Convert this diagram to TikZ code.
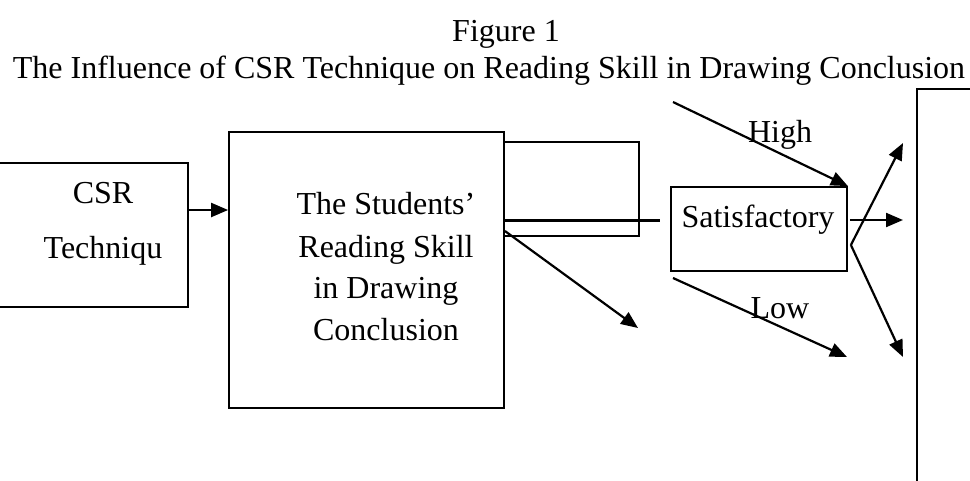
\documentclass[tikz,border=0pt]{standalone}
\usepackage{fontspec}
\setmainfont{Liberation Serif}
\usetikzlibrary{arrows.meta}
\begin{document}
\begin{tikzpicture}[x=1pt,y=-1pt,
  box/.style={draw,line width=1.8pt,inner sep=0pt,rectangle},
  txt/.style={anchor=base,inner sep=0pt,font=\fontsize{32}{40}\selectfont},
  arr/.style={line width=2.2pt,-{Triangle[length=17pt,width=14pt]}},
  plain/.style={line width=2pt}]
\useasboundingbox (0,0) rectangle (970,480);
\clip (0,0) rectangle (970,480);
% title
\node[txt] (fig) at (506,41) {Figure 1};
\node[txt] (title) at (489,78) {The Influence of CSR Technique on Reading Skill in Drawing Conclusion};
% boxes
\node[box,minimum width=198pt,minimum height=144pt] (csr) at (89,235) {};
\node[box,minimum width=135pt,minimum height=94pt] (back) at (571.5,189) {};
\node[box,minimum width=275pt,minimum height=276pt] (big) at (366.5,270) {};
\node[box,minimum width=176pt,minimum height=84pt] (sat) at (759,229) {};
\node[box,minimum width=66pt,minimum height=422pt] (right) at (950,300) {};
% texts
\node[txt] (csr1) at (103,203) {CSR};
\node[txt] (csr2) at (103,258) {Techniqu};
\node[txt] (b1) at (386,214) {The Students’};
\node[txt] (b2) at (386,257) {Reading Skill};
\node[txt] (b3) at (386,298) {in Drawing};
\node[txt] (b4) at (386,340) {Conclusion};
\node[txt] (sattxt) at (758,227) {Satisfactory};
\node[txt] (high) at (780,142) {High};
\node[txt] (low) at (780,318) {Low};
% free ends
\coordinate (lineend) at (660,220);
\coordinate (midend) at (638,328);
\coordinate (highstart) at (673,102);
\coordinate (lowstart) at (673,278);
\coordinate (lowend) at (847,357);
\coordinate (outmid) at (903,220);
\coordinate (outtop) at (903,143);
\coordinate (outbot) at (903,357);
% connectors
\draw[arr] ([yshift=25pt]csr.east) -- ([yshift=60pt]big.west);
\draw[line width=3pt] ([yshift=50pt]big.east) -- (lineend);
\draw[arr] ([yshift=39pt]big.east) -- (midend);
\draw[arr] (highstart) -- (sat.north east);
\draw[arr] (lowstart) -- (lowend);
\draw[arr] ([yshift=9pt,xshift=2pt]sat.east) -- (outmid);
\draw[arr] ([yshift=-16pt,xshift=3pt]sat.east) -- (outtop);
\draw[arr] ([yshift=-16pt,xshift=3pt]sat.east) -- (outbot);
\end{tikzpicture}
\end{document}
